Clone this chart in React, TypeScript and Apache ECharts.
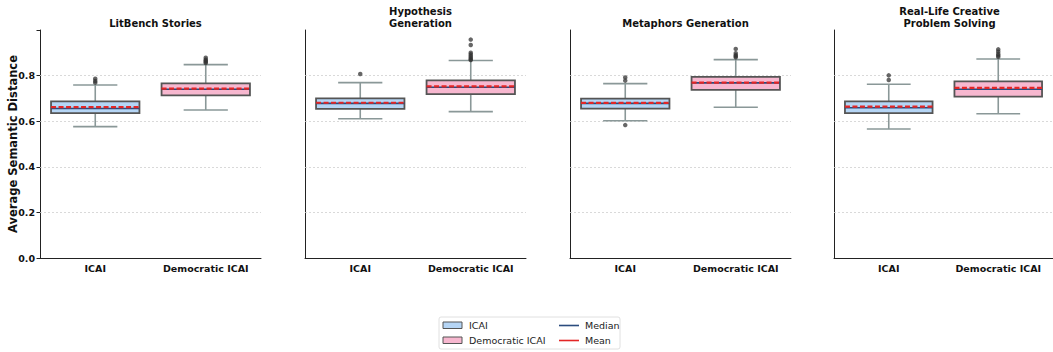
import React, { useEffect, useRef } from 'react';
import * as echarts from 'echarts';

const PANEL_TITLES = ['LitBench Stories', 'Hypothesis\nGeneration', 'Metaphors Generation', 'Real-Life Creative\nProblem Solving'];
const GROUPS = ['ICAI', 'Democratic ICAI'];
const Y_TITLE = 'Average Semantic Distance';
// [lower whisker, q1, median, q3, upper whisker]
const ICAI_BOX = [
  [0.576, 0.635, 0.656, 0.687, 0.759],
  [0.611, 0.654, 0.678, 0.700, 0.769],
  [0.602, 0.655, 0.678, 0.699, 0.765],
  [0.566, 0.635, 0.659, 0.687, 0.762],
];
const DEM_BOX = [
  [0.649, 0.713, 0.740, 0.766, 0.848],
  [0.642, 0.719, 0.749, 0.779, 0.866],
  [0.661, 0.737, 0.768, 0.794, 0.870],
  [0.633, 0.708, 0.740, 0.775, 0.873],
];
const ICAI_MEAN = [0.662, 0.681, 0.680, 0.664];
const DEM_MEAN = [0.743, 0.753, 0.769, 0.746];
const ICAI_OUTLIERS = [[0.769, 0.776, 0.786], [0.807], [0.583, 0.778, 0.792], [0.781, 0.801]];
const DEM_OUTLIERS = [
  [0.855, 0.860, 0.865, 0.870, 0.878],
  [0.868, 0.872, 0.878, 0.885, 0.893, 0.900, 0.934, 0.958],
  [0.880, 0.885, 0.890, 0.898, 0.917],
  [0.882, 0.888, 0.895, 0.905, 0.915],
];
const GRID_TICKS = [0.2, 0.4, 0.6, 0.8];
const Y_MIN = 0;
const Y_MAX = 1.0;

const FONT = 'DejaVu Sans';
const ICAI_FILL = '#b5d5f5';
const DEM_FILL = '#f7b7cf';
const EDGE = '#555555';
const WHISKER = '#8a9898';
const MEDIAN = '#2b4c7e';
const MEAN = '#e32626';

const PANEL_LEFT = [40, 305, 570, 834];
const PANEL_W = 221;
const TOP = 30;
const BOTTOM = 94;

export default function App() {
  const ref = useRef<HTMLDivElement>(null);
  useEffect(() => {
    document.body.style.margin = '0';
    const chart = echarts.init(ref.current!, null, { renderer: 'svg' });
    const grids: any[] = [];
    const xAxes: any[] = [];
    const yAxes: any[] = [];
    const series: any[] = [];
    const titles: any[] = [];

    PANEL_TITLES.forEach((t, p) => {
      grids.push({ left: PANEL_LEFT[p], width: PANEL_W, top: TOP, bottom: BOTTOM });
      xAxes.push({
        type: 'category', gridIndex: p, data: GROUPS, boundaryGap: true,
        axisLine: { lineStyle: { color: '#222', width: 1 } },
        axisTick: { alignWithLabel: true, length: 3.5, lineStyle: { color: '#222' } },
        axisLabel: { interval: 0, color: '#111', fontFamily: FONT, fontWeight: 'bold', fontSize: 9.5, margin: 5 },
        splitLine: { show: false },
      });
      yAxes.push({
        type: 'value', gridIndex: p, min: Y_MIN, max: Y_MAX, interval: 0.2,
        axisLine: { show: true, lineStyle: { color: '#222', width: 1 } },
        axisTick: { show: p === 0, length: 3.5, lineStyle: { color: '#222' } },
        axisLabel: {
          show: p === 0, color: '#111', fontFamily: FONT, fontWeight: 'bold', fontSize: 9.5, margin: 5,
          formatter: (v: number) => (v > 0.9 ? '' : v.toFixed(1)),
        },
        splitLine: { show: false },
      });
      const twoLine = t.includes('\n');
      titles.push({
        text: t, left: PANEL_LEFT[p] + PANEL_W / 2, top: twoLine ? 1 : 13, textAlign: 'center',
        textStyle: { fontFamily: FONT, fontWeight: 'bold', fontSize: 10, color: '#111', lineHeight: 11.5 },
      });

      const boxData = [
        [0, ...ICAI_BOX[p], ICAI_MEAN[p]],
        [1, ...DEM_BOX[p], DEM_MEAN[p]],
      ];
      series.push({
        type: 'custom', xAxisIndex: p, yAxisIndex: p, z: 3,
        encode: { x: 0, y: [1, 2, 3, 4, 5, 6] },
        data: boxData,
        renderItem: (params: any, api: any) => {
          const x = api.value(0);
          const lo = api.coord([x, api.value(1)]);
          const q1 = api.coord([x, api.value(2)]);
          const med = api.coord([x, api.value(3)]);
          const q3 = api.coord([x, api.value(4)]);
          const hi = api.coord([x, api.value(5)]);
          const mean = api.coord([x, api.value(6)]);
          const bw = api.size([1, 0])[0] * 0.8;
          const cw = bw * 0.5;
          const cx = lo[0];
          const fill = x === 0 ? ICAI_FILL : DEM_FILL;
          const wStyle = { stroke: WHISKER, lineWidth: 1.6 };
          return {
            type: 'group',
            children: [
              { type: 'line', shape: { x1: cx, y1: q1[1], x2: cx, y2: lo[1] }, style: wStyle },
              { type: 'line', shape: { x1: cx, y1: q3[1], x2: cx, y2: hi[1] }, style: wStyle },
              { type: 'line', shape: { x1: cx - cw / 2, y1: lo[1], x2: cx + cw / 2, y2: lo[1] }, style: wStyle },
              { type: 'line', shape: { x1: cx - cw / 2, y1: hi[1], x2: cx + cw / 2, y2: hi[1] }, style: wStyle },
              {
                type: 'rect', shape: { x: cx - bw / 2, y: q3[1], width: bw, height: q1[1] - q3[1] },
                style: { fill, stroke: EDGE, lineWidth: 1.8 },
              },
              { type: 'line', shape: { x1: cx - bw / 2, y1: med[1], x2: cx + bw / 2, y2: med[1] }, style: { stroke: MEDIAN, lineWidth: 1.6 } },
              {
                type: 'line', shape: { x1: cx - bw / 2, y1: mean[1], x2: cx + bw / 2, y2: mean[1] },
                style: { stroke: MEAN, lineWidth: 2.2, lineDash: [5, 2.5] },
              },
            ],
          };
        },
        markLine: {
          silent: true, symbol: 'none', label: { show: false },
          lineStyle: { color: '#cfcfcf', type: [2, 2], width: 0.8 },
          data: GRID_TICKS.map((v) => ({ yAxis: v })),
          z: 1,
        },
      });
      const outData: number[][] = [];
      ICAI_OUTLIERS[p].forEach((v) => outData.push([0, v]));
      DEM_OUTLIERS[p].forEach((v) => outData.push([1, v]));
      series.push({
        type: 'scatter', xAxisIndex: p, yAxisIndex: p, z: 4,
        data: outData, symbolSize: 4.5,
        itemStyle: { color: '#333', opacity: 0.75 },
      });
    });

    const LX = 439, LY = 317;
    const legendText = { fontFamily: FONT, fontSize: 9.5, fill: '#222' };
    const graphic: any[] = [
      {
        type: 'text', x: 13, y: 144, rotation: Math.PI / 2,
        style: { text: Y_TITLE, fontFamily: FONT, fontWeight: 'bold', fontSize: 11.5, fill: '#111', align: 'center', verticalAlign: 'middle' },
      },
      { type: 'rect', shape: { x: LX, y: LY, width: 181, height: 32, r: 2 }, style: { fill: '#fff', stroke: '#d8d8d8', lineWidth: 0.8 } },
      { type: 'rect', shape: { x: 443, y: 322, width: 19, height: 6.5 }, style: { fill: ICAI_FILL, stroke: EDGE, lineWidth: 1 } },
      { type: 'text', x: 469, y: 325, style: { ...legendText, text: 'ICAI', verticalAlign: 'middle' } },
      { type: 'rect', shape: { x: 443, y: 337, width: 19, height: 6.5 }, style: { fill: DEM_FILL, stroke: EDGE, lineWidth: 1 } },
      { type: 'text', x: 469, y: 340, style: { ...legendText, text: 'Democratic ICAI', verticalAlign: 'middle' } },
      { type: 'line', shape: { x1: 559, y1: 325.5, x2: 579, y2: 325.5 }, style: { stroke: MEDIAN, lineWidth: 1.6 } },
      { type: 'text', x: 585, y: 325, style: { ...legendText, text: 'Median', verticalAlign: 'middle' } },
      { type: 'line', shape: { x1: 559, y1: 340.5, x2: 579, y2: 340.5 }, style: { stroke: MEAN, lineWidth: 1.6 } },
      { type: 'text', x: 585, y: 340, style: { ...legendText, text: 'Mean', verticalAlign: 'middle' } },
    ];

    chart.setOption({
      animation: false,
      backgroundColor: '#fff',
      title: titles,
      grid: grids,
      xAxis: xAxes,
      yAxis: yAxes,
      series,
      graphic,
    });
    return () => chart.dispose();
  }, []);
  return <div ref={ref} style={{ width: 1053, height: 352 }} />;
}
